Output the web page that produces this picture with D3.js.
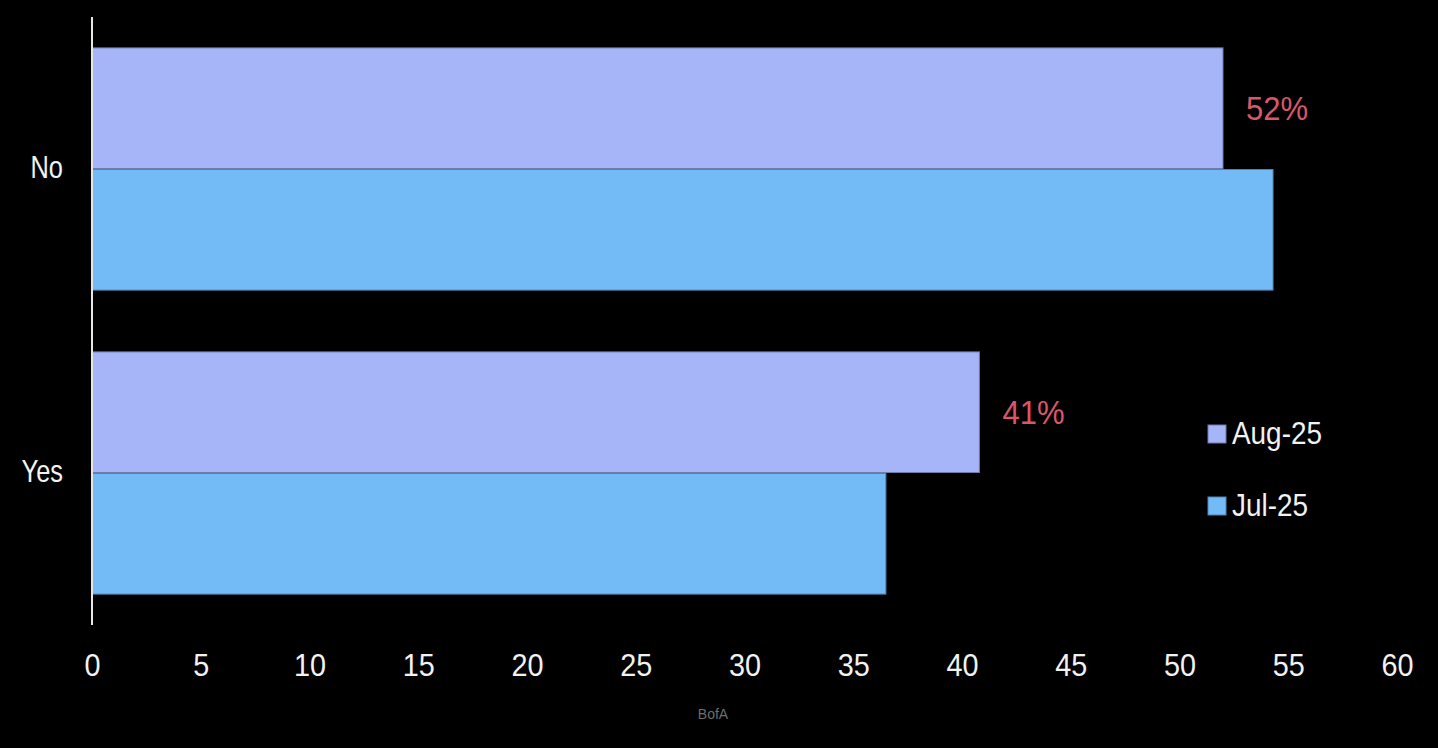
<!DOCTYPE html>
<html>
<head>
<meta charset="utf-8">
<script src="https://cdn.jsdelivr.net/npm/d3@7"></script>
<style>
  html, body { margin: 0; padding: 0; background: #000; }
  svg { display: block; }
  text { font-family: "Liberation Sans", Arial, sans-serif; }
</style>
</head>
<body>
<svg id="chart" width="1438" height="748"></svg>
<script>
const categories = ["No", "Yes"];
const seriesNames = ["Aug-25", "Jul-25"];
const aug25 = [52, 40.8];
const jul25 = [54.3, 36.5];
const augLabels = ["52%", "41%"];
const xTicks = [0, 5, 10, 15, 20, 25, 30, 35, 40, 45, 50, 55, 60];
const source = "BofA";

const colors = { "Aug-25": "#a6b4f8", "Jul-25": "#72bbf7" };
const strokes = { "Aug-25": "#6d7cab", "Jul-25": "#4f84b8" };

const svg = d3.select("#chart");
svg.append("rect").attr("width", 1438).attr("height", 748).attr("fill", "#000");

const x = d3.scaleLinear().domain([0, 60]).range([92, 1397]);
const y = d3.scaleBand().domain(categories).range([17, 625]).paddingInner(0.2).paddingOuter(0.1);
const ySub = d3.scaleBand().domain(seriesNames).range([0, y.bandwidth()]);

const data = [];
categories.forEach((c, i) => {
  data.push({ cat: c, series: "Aug-25", value: aug25[i], label: augLabels[i] });
  data.push({ cat: c, series: "Jul-25", value: jul25[i], label: null });
});

const g = svg.append("g");
g.selectAll("rect.bar").data(data).join("rect")
  .attr("class", "bar")
  .attr("x", x(0))
  .attr("y", d => y(d.cat) + ySub(d.series) + 0.5)
  .attr("width", d => x(d.value) - x(0))
  .attr("height", ySub.bandwidth() - 1)
  .attr("fill", d => colors[d.series])
  .attr("stroke", d => strokes[d.series])
  .attr("stroke-width", 1);

g.selectAll("text.val").data(data.filter(d => d.label)).join("text")
  .attr("class", "val")
  .attr("transform", d => `translate(${x(d.value) + 23},${y(d.cat) + ySub(d.series) + ySub.bandwidth() / 2}) scale(0.94,1)`)
  .attr("dy", "0.35em")
  .attr("fill", "#d9576b")
  .attr("font-size", 33)
  .text(d => d.label);

// y axis line
svg.append("line")
  .attr("x1", x(0)).attr("x2", x(0))
  .attr("y1", 17).attr("y2", 625)
  .attr("stroke", "#e6e6e6").attr("stroke-width", 2);

// category labels
svg.selectAll("text.cat").data(categories).join("text")
  .attr("class", "cat")
  .attr("transform", d => `translate(63,${y(d) + y.bandwidth() / 2 - 2}) scale(0.82,1)`)
  .attr("dy", "0.35em")
  .attr("text-anchor", "end")
  .attr("fill", "#f2f2f2")
  .attr("font-size", 31)
  .text(d => d);

// x axis tick labels (no axis line)
const xAxis = d3.axisBottom(x).tickValues(xTicks).tickSize(0).tickPadding(0);
const ax = svg.append("g").attr("transform", "translate(0,654)").call(xAxis);
ax.select(".domain").remove();
ax.selectAll("text")
  .attr("fill", "#f2f2f2")
  .attr("font-size", 31)
  .attr("transform", "scale(0.93,1)")
  .attr("font-family", "'Liberation Sans', Arial, sans-serif");

// legend
const legendY = [433, 505];
const lg = svg.selectAll("g.leg").data(seriesNames).join("g").attr("class", "leg")
  .attr("transform", (d, i) => `translate(1208,${legendY[i]})`);
lg.append("rect").attr("x", 0).attr("y", -8).attr("width", 18).attr("height", 18)
  .attr("fill", d => colors[d]).attr("stroke", d => strokes[d]).attr("stroke-width", 1);
lg.append("text").attr("transform", "translate(24,0) scale(0.9,1)").attr("dy", "0.35em")
  .attr("fill", "#f2f2f2").attr("font-size", 31).text(d => d);

// source
svg.append("text")
  .attr("x", 713).attr("y", 714).attr("dy", "0.35em")
  .attr("text-anchor", "middle")
  .attr("fill", "#6e6e6e")
  .attr("font-size", 14)
  .text(source);
</script>
</body>
</html>
